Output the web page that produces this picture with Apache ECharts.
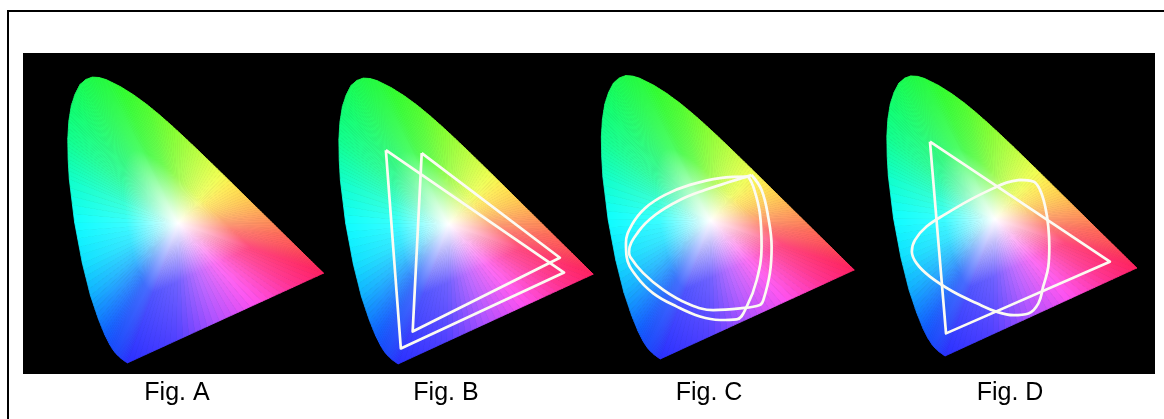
<!DOCTYPE html>
<html><head><meta charset="utf-8">
<script src="https://cdn.jsdelivr.net/npm/echarts@6/dist/echarts.min.js"></script>
<style>html,body{margin:0;padding:0;background:#fff}#c{width:1164px;height:419px}</style>
</head><body><div id="c"></div>
<script>
// Spectral locus (CIE x, y), 380 nm -> 700 nm
const locusX = [0.1741,0.1566,0.1440,0.1355,0.1241,0.1096,0.0913,0.0687,0.0454,0.0235,0.0082,0.0049,0.0039,0.0069,0.0139,0.0247,0.0389,0.0559,0.0743,0.0942,0.1142,0.1547,0.1929,0.2296,0.2658,0.3016,0.3373,0.3731,0.4087,0.4441,0.4788,0.5125,0.5448,0.5752,0.6029,0.6270,0.6658,0.6915,0.7190,0.7347];
const locusY = [0.0050,0.0177,0.0297,0.0399,0.0578,0.0868,0.1327,0.2007,0.2950,0.4127,0.5384,0.5970,0.6548,0.7055,0.7502,0.7840,0.8120,0.8269,0.8338,0.8323,0.8262,0.8059,0.7816,0.7543,0.7243,0.6923,0.6589,0.6245,0.5896,0.5547,0.5202,0.4866,0.4544,0.4242,0.3965,0.3725,0.3340,0.3083,0.2809,0.2653];
const whitePoint = [0.32, 0.41];

// Fig. B : two triangles
const figB1X = [0.139,0.182,0.651,0.139];
const figB1Y = [0.625,0.050,0.270,0.625];
const figB2X = [0.242,0.216,0.639,0.242];
const figB2Y = [0.616,0.099,0.313,0.616];

// Fig. C : two rounded gamuts
const figC1X = [0.438,0.467,0.486,0.496,0.491,0.472,0.462,0.405,0.327,0.251,0.183,0.125,0.087,0.084,0.110,0.159,0.231,0.303,0.376,0.438];
const figC1Y = [0.543,0.499,0.421,0.333,0.256,0.177,0.163,0.153,0.148,0.168,0.207,0.256,0.304,0.318,0.376,0.426,0.470,0.499,0.523,0.543];
const figC2X = [0.429,0.443,0.462,0.467,0.453,0.424,0.395,0.347,0.289,0.222,0.154,0.106,0.077,0.075,0.092,0.130,0.188,0.260,0.347,0.429];
const figC2Y = [0.538,0.509,0.431,0.333,0.236,0.158,0.121,0.119,0.129,0.158,0.197,0.246,0.304,0.344,0.397,0.446,0.485,0.514,0.534,0.538];

// Fig. D : triangle + D-shaped gamut
const figD1X = [0.130,0.656,0.177,0.130];
const figD1Y = [0.639,0.284,0.072,0.639];
const figD2X = [0.393,0.432,0.452,0.467,0.476,0.479,0.476,0.461,0.447,0.418,0.374,0.325,0.267,0.198,0.130,0.091,0.077,0.086,0.120,0.179,0.247,0.315,0.354,0.393];
const figD2Y = [0.526,0.521,0.496,0.447,0.388,0.328,0.269,0.210,0.161,0.131,0.126,0.136,0.161,0.195,0.240,0.279,0.314,0.348,0.388,0.427,0.467,0.501,0.518,0.526];

const figLabels = ['Fig. A','Fig. B','Fig. C','Fig. D'];

// styles
const locusColors = ['#2a30ff','#2440ff','#2048ff','#1c4cff','#1850ff','#1060ff','#1080ff','#10b0ff','#10e0ff','#10ffff','#10ffc8','#10ffac','#10ff90','#10ff80','#10ff70','#14ff64','#18ff58','#1cff50','#20ff48','#24ff44','#28ff40','#30ff30','#40ff30','#50ff30','#68ff30','#80ff30','#9cff38','#b8ff40','#d4ff48','#f0ff50','#ffe850','#ffd050','#ffb454','#ff9858','#ff8058','#ff6858','#ff505a','#ff3c5c','#ff2a60','#ff2060'];
const purpleColors = [[0,'#ff2060'],[0.15,'#ff3090'],[0.35,'#ff50f0'],[0.55,'#b050ff'],[0.75,'#5040ff'],[1,'#2a30ff']];

function hex2rgb(h){h=h.replace('#','');return [parseInt(h.substr(0,2),16),parseInt(h.substr(2,2),16),parseInt(h.substr(4,2),16)];}
function rgbStr(c){return 'rgb('+c.map(v=>Math.round(v)).join(',')+')';}
function mixRgb(a,b,t){return [a[0]+(b[0]-a[0])*t,a[1]+(b[1]-a[1])*t,a[2]+(b[2]-a[2])*t];}
function paletteAt(p,t){
  for(let i=0;i<p.length-1;i++){
    if(t<=p[i+1][0]){const f=(t-p[i][0])/(p[i+1][0]-p[i][0]);return mixRgb(hex2rgb(p[i][1]),hex2rgb(p[i+1][1]),f);}
  }
  return hex2rgb(p[p.length-1][1]);
}
const WHITE=[255,255,255];

function makeFan(gi){
  return {
    type:'custom', xAxisIndex:gi, yAxisIndex:gi, clip:false, silent:true, z:1,
    data: locusX.map((x,i)=>[x,locusY[i]]),
    renderItem(params, api){
      const n=locusX.length, i=params.dataIndex, j=(i+1)%n;
      const a=api.coord([locusX[i],locusY[i]]), b=api.coord([locusX[j],locusY[j]]);
      const c=api.coord(whitePoint);
      const purple=(i===n-1);
      const k=purple?32:5;
      const children=[];
      for(let s=0;s<k;s++){
        const t0=s/k,t1=(s+1)/k,tm=(t0+t1)/2;
        const p0=[a[0]+(b[0]-a[0])*t0,a[1]+(b[1]-a[1])*t0];
        const p1=[a[0]+(b[0]-a[0])*t1,a[1]+(b[1]-a[1])*t1];
        const col=purple?paletteAt(purpleColors,tm):mixRgb(hex2rgb(locusColors[i]),hex2rgb(locusColors[j]),tm);
        const m=[(p0[0]+p1[0])/2,(p0[1]+p1[1])/2];
        const grad={type:'linear',x:c[0],y:c[1],x2:m[0],y2:m[1],global:true,colorStops:[
          {offset:0,color:'#ffffff'},
          {offset:0.14,color:rgbStr(mixRgb(col,WHITE,0.78))},
          {offset:0.5,color:rgbStr(mixRgb(col,WHITE,0.18))},
          {offset:1,color:rgbStr(col)}]};
        children.push({type:'polygon',shape:{points:[c,p0,p1]},style:{fill:grad,stroke:grad,lineWidth:0.8,lineJoin:'round'}});
      }
      return {type:'group',children};
    }
  };
}
function outline(gi,xs,ys,smooth){
  return {type:'line',xAxisIndex:gi,yAxisIndex:gi,z:5,silent:true,symbol:'none',showSymbol:false,
    smooth:smooth,data:xs.map((x,i)=>[x,ys[i]]),
    lineStyle:{color:'#fbfbf2',width:2.7,join:'round'}};
}

const grids=[
  {left:66.4,top:54.2,width:280,height:310.5},
  {left:337.5,top:55.2,width:278.4,height:310.5},
  {left:600,top:52.9,width:276.8,height:307.8},
  {left:885.5,top:53.5,width:273.6,height:304.2}
];
const labelX=[177,446,709,1010];

const chart=echarts.init(document.getElementById('c'),null,{renderer:'canvas'});
chart.setOption({
  animation:false,
  backgroundColor:'#ffffff',
  grid:grids,
  xAxis:grids.map((g,i)=>({type:'value',gridIndex:i,min:0,max:0.8,show:false})),
  yAxis:grids.map((g,i)=>({type:'value',gridIndex:i,min:0,max:0.9,show:false})),
  graphic:[
    {type:'rect',z:-10,shape:{x:23,y:53,width:1132,height:321},style:{fill:'#000000'}},
    {type:'line',shape:{x1:7,y1:11,x2:1164,y2:11},style:{stroke:'#000',lineWidth:2}},
    {type:'line',shape:{x1:8,y1:10,x2:8,y2:419},style:{stroke:'#000',lineWidth:2}}
  ].concat(figLabels.map((t,i)=>({type:'text',x:labelX[i],y:393,
     style:{text:t,fontSize:25,fontFamily:'Liberation Sans, Arial, sans-serif',fill:'#000',align:'center',verticalAlign:'middle'}}))),
  series:[
    makeFan(0),makeFan(1),makeFan(2),makeFan(3),
    outline(1,figB1X,figB1Y,false),outline(1,figB2X,figB2Y,false),
    outline(2,figC1X,figC1Y,0.4),outline(2,figC2X,figC2Y,0.4),
    outline(3,figD1X,figD1Y,false),outline(3,figD2X,figD2Y,0.4)
  ]
});
</script></body></html>
